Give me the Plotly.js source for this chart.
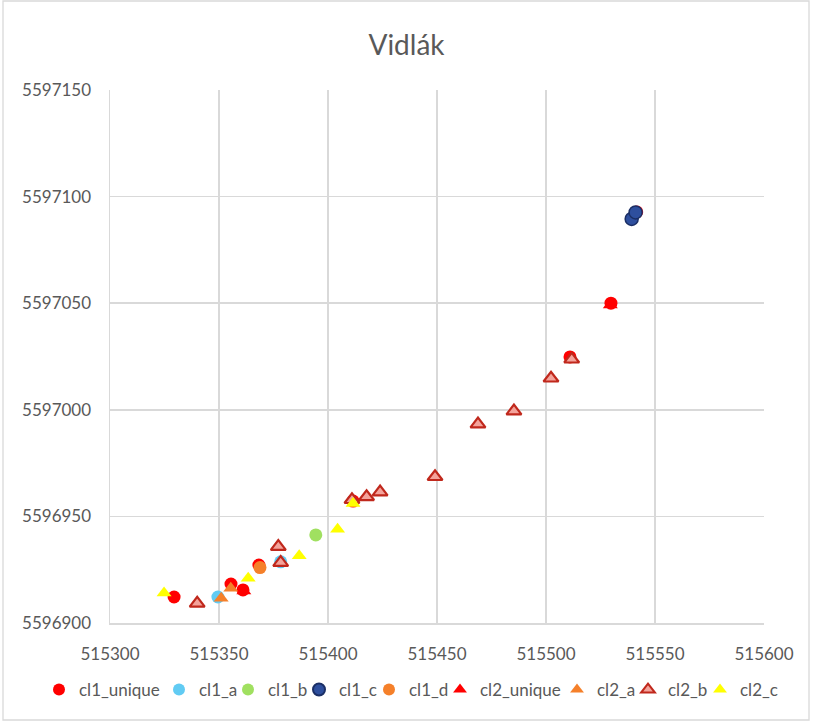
<!DOCTYPE html>
<html>
<head>
<meta charset="utf-8">
<script src="https://cdn.plot.ly/plotly-3.0.1.min.js"></script>
<style>html,body{margin:0;padding:0;background:#fff;}#chart{width:813px;height:723px;}</style>
</head>
<body>
<div id="chart"></div>
<script>
// Series names
const seriesNames = ["cl1_unique","cl1_a","cl1_b","cl1_c","cl1_d","cl2_unique","cl2_a","cl2_b","cl2_c"];

// Values
const cl1_unique_x = [515329.4, 515355.5, 515368.3, 515361.0, 515411.5, 515511.0, 515529.8, 515541.6];
const cl1_unique_y = [5596912.2, 5596918.3, 5596927.2, 5596915.5, 5596957.2, 5597024.8, 5597050.0, 5597092.8];

const cl1_a_x = [515349.5, 515378.3];
const cl1_a_y = [5596912.2, 5596928.7];

const cl1_b_x = [515394.4];
const cl1_b_y = [5596941.3];

const cl1_c_x = [515539.3, 515541.1];
const cl1_c_y = [5597089.5, 5597092.6];

const cl1_d_x = [515368.8];
const cl1_d_y = [5596926.0];

const cl2_unique_x = [515361.4, 515529.5];
const cl2_unique_y = [5596915.0, 5597049.2];

const cl2_a_x = [515351.0, 515355.4];
const cl2_a_y = [5596911.6, 5596916.3];

const cl2_b_x = [515340.0, 515377.2, 515378.3, 515411.0, 515417.7, 515423.9, 515449.1, 515468.8, 515485.3, 515502.3, 515511.8];
const cl2_b_y = [5596909.2, 5596935.8, 5596928.3, 5596957.8, 5596959.2, 5596961.4, 5596968.6, 5596993.3, 5596999.4, 5597014.8, 5597023.7];

const cl2_c_x = [515324.8, 515363.4, 515386.8, 515404.4, 515411.5];
const cl2_c_y = [5596914.1, 5596921.0, 5596931.6, 5596944.0, 5596956.0];

const xTicks = [515300, 515350, 515400, 515450, 515500, 515550, 515600];
const yTicks = [5596900, 5596950, 5597000, 5597050, 5597100, 5597150];

const font = "Lato, 'Liberation Sans', sans-serif";
const txt = "#595959";

const L = 110, R = 49, T = 90, B = 100, W = 813, H = 723;
const pw = W - L - R, ph = H - T - B;

// legend symbol pixel positions (layout only)
const legendPx = [62, 182, 251, 322, 392, 463, 580, 651, 723];

function tr(i, x, y, symbol, color, lineColor, lineWidth) {
  return {
    type: "scatter", mode: "markers", name: seriesNames[i], x: x, y: y,
    legend: i === 0 ? "legend" : "legend" + (i + 1),
    marker: {symbol: symbol, size: 13, color: color,
             line: {color: lineColor || color, width: lineWidth || 0}}
  };
}

const data = [
  tr(0, cl1_unique_x, cl1_unique_y, "circle", "#FF0000"),
  tr(1, cl1_a_x, cl1_a_y, "circle", "#61CBF3"),
  tr(2, cl1_b_x, cl1_b_y, "circle", "#A0E060"),
  tr(3, cl1_c_x, cl1_c_y, "circle", "#2E4F9E", "#1B2F66", 1.5),
  tr(4, cl1_d_x, cl1_d_y, "circle", "#F5802A"),
  tr(5, cl2_unique_x, cl2_unique_y, "triangle-up", "#FF0000"),
  tr(6, cl2_a_x, cl2_a_y, "triangle-up", "#F5802A"),
  tr(7, cl2_b_x, cl2_b_y, "triangle-up", "#F4A39B", "#C0281C", 2.2),
  tr(8, cl2_c_x, cl2_c_y, "triangle-up", "#FFFF00")
];

const layout = {
  width: W, height: H,
  margin: {l: L, r: R, t: T, b: B, pad: 0, autoexpand: false},
  paper_bgcolor: "#fff", plot_bgcolor: "#fff",
  font: {family: font, color: txt, size: 17},
  title: {text: "Vidlák", x: 0.5, xref: "container", xanchor: "center", y: 1 - 45 / H, yref: "container", yanchor: "middle",
          font: {family: font, size: 28, color: txt}},
  xaxis: {
    range: [515300, 515600], tickvals: xTicks, ticktext: xTicks.map(String),
    showgrid: true, gridcolor: "#D9D9D9", gridwidth: 1.5,
    showline: true, linecolor: "#D9D9D9", linewidth: 1.5,
    zeroline: false, ticks: "", ticklabelstandoff: 15,
    tickfont: {family: font, size: 17, color: txt}
  },
  yaxis: {
    range: [5596900, 5597150], tickvals: yTicks, ticktext: yTicks.map(String),
    showgrid: true, gridcolor: "#D9D9D9", gridwidth: 1.5,
    showline: true, linecolor: "#D9D9D9", linewidth: 1.5,
    zeroline: false, ticks: "", ticklabelstandoff: 14,
    tickfont: {family: font, size: 17, color: txt}
  },
  showlegend: true,
  shapes: [{
    type: "rect", xref: "paper", yref: "paper",
    x0: (3 - L) / pw, x1: (809 - L) / pw,
    y0: (T + ph - 720) / ph, y1: (T + ph - 1) / ph,
    line: {color: "#D9D9D9", width: 1.3}, fillcolor: "rgba(0,0,0,0)", layer: "below"
  }]
};

legendPx.forEach(function (px, i) {
  const key = i === 0 ? "legend" : "legend" + (i + 1);
  layout[key] = {
    orientation: "h", x: (px - 23 - L) / pw, xanchor: "left",
    y: (T + ph - 690) / ph, yanchor: "middle",
    font: {family: font, size: 17, color: txt}, itemwidth: 30,
    bgcolor: "rgba(0,0,0,0)", borderwidth: 0, itemsizing: "constant"
  };
});

Plotly.newPlot("chart", data, layout, {displayModeBar: false, staticPlot: true});
</script>
</body>
</html>
